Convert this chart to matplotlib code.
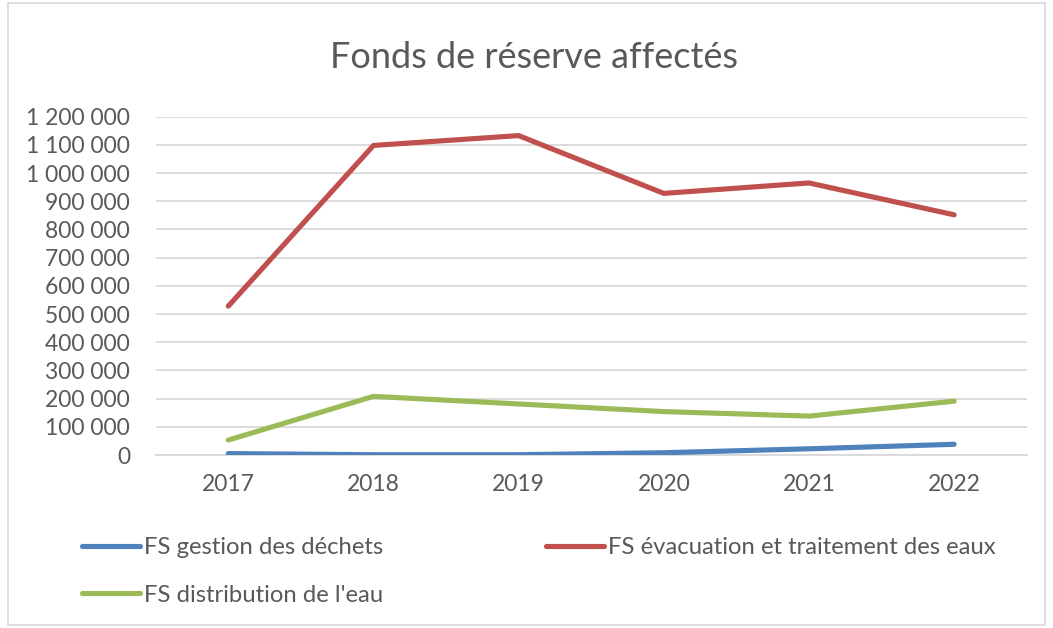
import matplotlib
matplotlib.use("Agg")
import matplotlib.pyplot as plt
from matplotlib.patches import Rectangle
from matplotlib.ticker import FuncFormatter

plt.rcParams['font.family'] = ['Lato', 'DejaVu Sans']

years = ["2017", "2018", "2019", "2020", "2021", "2022"]
dechets = [5000, 1000, 1000, 8000, 22000, 38000]
eaux_usees = [528000, 1098000, 1133000, 928000, 965000, 852000]
distribution = [53000, 208000, 181000, 154000, 138000, 191000]

series_names = ["FS gestion des déchets",
                "FS évacuation et traitement des eaux",
                "FS distribution de l'eau"]
colors = ["#4F81BD", "#C0504D", "#9BBB59"]
text_color = "#595959"
grid_color = "#D9D9D9"

W, H = 1053, 628
fig = plt.figure(figsize=(W / 100, H / 100), dpi=100)
ax = fig.add_axes([155.7 / W, 1 - 455 / H, (1026.7 - 155.7) / W, (455 - 116.7) / H])

x = list(range(len(years)))
lines = []
for vals, name, c in zip([dechets, eaux_usees, distribution], series_names, colors):
    ln, = ax.plot(x, vals, color=c, lw=3.7, solid_capstyle='round',
                  solid_joinstyle='round', label=name, zorder=3)
    lines.append(ln)

ax.set_xlim(-0.5, len(years) - 0.5)
ax.set_ylim(0, 1200000)
ax.set_yticks(range(0, 1200001, 100000))
ax.yaxis.set_major_formatter(FuncFormatter(lambda v, p: f"{v:,.0f}".replace(",", " ")))
ax.set_xticks(x)
ax.set_xticklabels(years)
ax.grid(axis='y', color=grid_color, lw=1.3, zorder=0)
for s in ['top', 'right', 'left']:
    ax.spines[s].set_visible(False)
ax.spines['bottom'].set_color(grid_color)
ax.spines['bottom'].set_linewidth(1.3)
ax.tick_params(axis='both', length=0, labelsize=16.5, colors=text_color)
ax.tick_params(axis='y', pad=18.5)
ax.tick_params(axis='x', pad=14)

fig.text(534 / W, 1 - 57 / H, "Fonds de réserve affectés", ha='center', va='center',
         fontsize=26, color=text_color)

order = [0, 2, 1]
leg = fig.legend(handles=[lines[i] for i in order], labels=[series_names[i] for i in order],
                 ncol=2, loc='upper left', bbox_to_anchor=(81.5 / W, 1 - 537 / H),
                 frameon=False, fontsize=17.2, handlelength=2.43, handletextpad=0.17,
                 columnspacing=6.84, labelspacing=1.11, labelcolor=text_color,
                 borderaxespad=0, borderpad=0)

fig.patches.append(Rectangle((8 / W, 3 / H), (1045 - 8) / W, (625 - 3) / H,
                             transform=fig.transFigure, fill=False,
                             edgecolor=grid_color, lw=1.2))

fig.savefig("out.png", dpi=100)
